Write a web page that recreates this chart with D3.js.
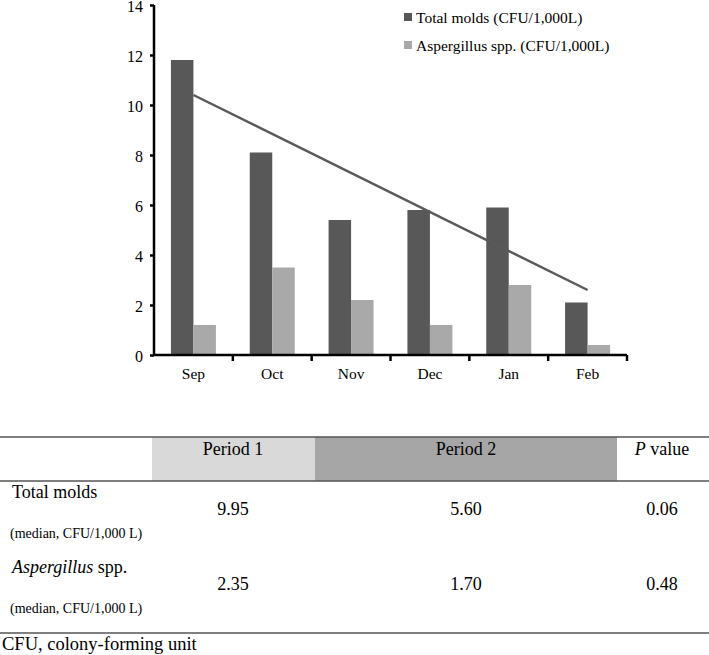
<!DOCTYPE html>
<html>
<head>
<meta charset="utf-8">
<script src="https://cdn.jsdelivr.net/npm/d3@7"></script>
<style>
  body { margin: 0; background: #fff; }
  svg text { font-family: "Liberation Serif", "Times New Roman", serif; fill: #000; }
</style>
</head>
<body>
<div class="chart"></div>
<script>
// chart data
var months = ["Sep", "Oct", "Nov", "Dec", "Jan", "Feb"];
var totalMolds = [11.8, 8.1, 5.4, 5.8, 5.9, 2.1];
var aspergillus = [1.2, 3.5, 2.2, 1.2, 2.8, 0.4];
var trendMonths = ["Sep", "Feb"];
var trendValues = [10.4, 2.6];
var yTicks = [0, 2, 4, 6, 8, 10, 12, 14];
var seriesNames = ["Total molds (CFU/1,000L)", "Aspergillus spp. (CFU/1,000L)"];

// table data
var tableHeaders = ["Period 1", "Period 2", "P value"];
var rowLabels = ["Total molds", "Aspergillus spp."];
var period1 = ["9.95", "2.35"];
var period2 = ["5.60", "1.70"];
var pValues = ["0.06", "0.48"];

var svgWidth = 709;
var svgHeight = 655;

var margin = { top: 5, left: 154 };
var width = 473;
var height = 350;

var darkGrey = "#585858";
var lightGrey = "#a9a9a9";

var svg = d3.select(".chart")
  .append("svg")
  .attr("width", svgWidth)
  .attr("height", svgHeight);

var chartGroup = svg.append("g")
  .attr("transform", `translate(${margin.left}, ${margin.top})`);

// scales
var xScale = d3.scaleBand()
  .domain(months)
  .range([0, width])
  .padding(0);

var barWidth = 22.5;
var x1 = d3.scaleBand()
  .domain(["total", "asp"])
  .range([(xScale.bandwidth() - 2 * barWidth) / 2, (xScale.bandwidth() + 2 * barWidth) / 2]);

var yScale = d3.scaleLinear()
  .domain([0, 14])
  .range([height, 0]);

// bars
var data = months.map((m, i) => ({ month: m, total: totalMolds[i], asp: aspergillus[i] }));

var groups = chartGroup.selectAll(".month")
  .data(data)
  .enter()
  .append("g")
  .attr("transform", d => `translate(${xScale(d.month)}, 0)`);

groups.append("rect")
  .attr("x", x1("total"))
  .attr("width", x1.bandwidth())
  .attr("y", d => yScale(d.total))
  .attr("height", d => height - yScale(d.total))
  .attr("fill", darkGrey);

groups.append("rect")
  .attr("x", x1("asp"))
  .attr("width", x1.bandwidth())
  .attr("y", d => yScale(d.asp))
  .attr("height", d => height - yScale(d.asp))
  .attr("fill", lightGrey);

// trend line
chartGroup.append("path")
  .datum(trendMonths.map((m, i) => [m, trendValues[i]]))
  .attr("fill", "none")
  .attr("stroke", "#5a5a5a")
  .attr("stroke-width", 2.5)
  .attr("d", d3.line()
    .x(d => xScale(d[0]) + xScale.bandwidth() / 2)
    .y(d => yScale(d[1])));

// y axis
var leftAxis = d3.axisLeft(yScale)
  .tickValues(yTicks)
  .tickSize(4)
  .tickPadding(7);

var yAxis = chartGroup.append("g").call(leftAxis);
yAxis.select(".domain").attr("stroke", "#000").attr("stroke-width", 2.5)
  .attr("d", `M0,0H0V${height}`);
yAxis.selectAll(".tick line").attr("stroke-width", 2.5);
yAxis.selectAll("text")
  .style("font-size", "16px")
  .attr("fill", "#000")
  .attr("dy", "0.38em");

// x axis: labels at centres, ticks at category boundaries
var bottomAxis = d3.axisBottom(xScale)
  .tickSize(0)
  .tickPadding(13);

var xAxis = chartGroup.append("g")
  .attr("transform", `translate(0, ${height})`)
  .call(bottomAxis);
xAxis.select(".domain").attr("stroke", "#000").attr("stroke-width", 2.5)
  .attr("d", `M0,0H${width}`);
xAxis.selectAll("text").style("font-size", "15.5px").attr("fill", "#000");

xAxis.selectAll(".boundary")
  .data(months)
  .enter()
  .append("line")
  .attr("x1", d => xScale(d) + xScale.bandwidth())
  .attr("x2", d => xScale(d) + xScale.bandwidth())
  .attr("y1", 0)
  .attr("y2", 6)
  .attr("stroke", "#000")
  .attr("stroke-width", 2.5);

// legend
var legend = svg.append("g").attr("transform", "translate(404, 13)");
seriesNames.forEach(function(name, i) {
  legend.append("rect")
    .attr("x", 0)
    .attr("y", i * 28)
    .attr("width", 8)
    .attr("height", 8)
    .attr("fill", i === 0 ? darkGrey : lightGrey);
  legend.append("text")
    .attr("x", 12)
    .attr("y", i * 28 + 10)
    .style("font-size", "15.5px")
    .text(name);
});

// table below the chart
var table = svg.append("g");
var colCentres = [233, 466, 662];

table.append("rect")
  .attr("x", 152).attr("y", 437).attr("width", 163).attr("height", 44)
  .attr("fill", "#d9d9d9");
table.append("rect")
  .attr("x", 315).attr("y", 437).attr("width", 302).attr("height", 44)
  .attr("fill", "#a6a6a6");

[437, 481, 633].forEach(function(y) {
  table.append("line")
    .attr("x1", 0).attr("x2", svgWidth)
    .attr("y1", y).attr("y2", y)
    .attr("stroke", "#555")
    .attr("stroke-width", 1.5);
});

tableHeaders.forEach(function(h, i) {
  var t = table.append("text")
    .attr("x", colCentres[i])
    .attr("y", 455)
    .attr("text-anchor", "middle")
    .style("font-size", "18px");
  if (h === "P value") {
    t.append("tspan").style("font-style", "italic").text("P");
    t.append("tspan").text(" value");
  } else {
    t.text(h);
  }
});

rowLabels.forEach(function(label, i) {
  var base = 498 + i * 75;
  var t = table.append("text")
    .attr("x", 12)
    .attr("y", base)
    .style("font-size", "18px");
  if (label === "Aspergillus spp.") {
    t.append("tspan").style("font-style", "italic").text("Aspergillus");
    t.append("tspan").text(" spp.");
  } else {
    t.text(label);
  }
  table.append("text")
    .attr("x", 10)
    .attr("y", base + 40)
    .style("font-size", "14px")
    .text("(median, CFU/1,000 L)");

  [period1[i], period2[i], pValues[i]].forEach(function(v, j) {
    table.append("text")
      .attr("x", colCentres[j])
      .attr("y", base + 17)
      .attr("text-anchor", "middle")
      .style("font-size", "18px")
      .text(v);
  });
});

svg.append("text")
  .attr("x", 2)
  .attr("y", 650)
  .style("font-size", "18.5px")
  .text("CFU, colony-forming unit");
</script>
</body>
</html>
